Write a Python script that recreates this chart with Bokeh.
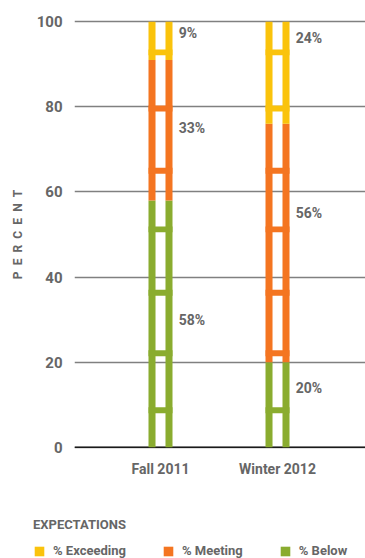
from bokeh.plotting import figure
from bokeh.layouts import column, row
from bokeh.models import (Range1d, FixedTicker, Legend, LegendItem,
                          ColumnDataSource, Span)
from bokeh.embed import file_html
from bokeh.resources import INLINE
from bokeh.core.properties import value

# ---------------- data ----------------
categories = ["Fall 2011", "Winter 2012"]
series_names = ["% Exceeding", "% Meeting", "% Below"]
pct_below = [58, 20]
pct_meeting = [33, 56]
pct_exceeding = [9, 24]
# vertical placement of the value labels (percent units)
label_y_below = [30.0, 14.0]
label_y_meeting = [75.0, 55.0]
label_y_exceeding = [97.4, 96.2]
# ladder rungs (percent units)
rung_levels = [8.7, 22.1, 36.3, 51.2, 65.0, 79.6, 92.8]
y_ticks = [0, 20, 40, 60, 80, 100]

# ---------------- style ----------------
C_EXC = "#fac30c"
C_MEET = "#f47521"
C_BELOW = "#8aac2f"
TEXT = "#666666"
FONT = "Roboto"

OFF = 0.0726      # rail offset from category centre (x units)
RAIL_W = 0.06     # rail width
LADDER_W = 0.205  # rung width
RUNG_H = 1.4      # rung height (percent units)

xs = list(range(len(categories)))

p = figure(width=365, height=500, output_backend="svg", toolbar_location=None,
           x_range=Range1d(-0.735, 1.752), y_range=Range1d(-1, 101),
           min_border_left=74, min_border_right=0, min_border_top=17,
           min_border_bottom=49)
p.outline_line_color = None
p.background_fill_color = "white"

# stacked segments
top_b = [b for b in pct_below]
bot_b = [0] * len(xs)
bot_m = top_b
top_m = [b + m for b, m in zip(pct_below, pct_meeting)]
bot_e = top_m
top_e = [t + e for t, e in zip(top_m, pct_exceeding)]

def rails(bottom, top, color):
    src = ColumnDataSource(dict(
        x=[x - OFF for x in xs] + [x + OFF for x in xs],
        bottom=list(bottom) * 2, top=list(top) * 2))
    return p.vbar(x="x", bottom="bottom", top="top", width=RAIL_W,
                  source=src, fill_color=color, line_color=None)

rails(bot_b, top_b, C_BELOW)
rails(bot_m, top_m, C_MEET)
rails(bot_e, top_e, C_EXC)

# rungs, coloured by the segment they sit in
rx, ry, rc = [], [], []
for i in xs:
    for lv in rung_levels:
        if lv < top_b[i]:
            c = C_BELOW
        elif lv < top_m[i]:
            c = C_MEET
        else:
            c = C_EXC
        rx.append(i); ry.append(lv); rc.append(c)
p.rect(x="x", y="y", width=LADDER_W, height=RUNG_H, color="c",
       source=ColumnDataSource(dict(x=rx, y=ry, c=rc)), line_color=None)

# value labels
lx, ly, lt = [], [], []
for vals, ys in ((pct_exceeding, label_y_exceeding),
                 (pct_meeting, label_y_meeting),
                 (pct_below, label_y_below)):
    for i in xs:
        lx.append(i + 0.155); ly.append(ys[i]); lt.append(f"{vals[i]}%")
p.text(x="x", y="y", text="t", source=ColumnDataSource(dict(x=lx, y=ly, t=lt)),
       text_font=value(FONT), text_font_style="bold", text_font_size="14px",
       text_color=TEXT, text_align="left", text_baseline="middle")

# grid
p.xgrid.grid_line_color = None
p.ygrid.ticker = FixedTicker(ticks=y_ticks)
p.ygrid.grid_line_color = "#808080"
p.ygrid.grid_line_width = 1.5
p.add_layout(Span(location=0, dimension="width", line_color="#1a1a1a",
                  line_width=1.5, level="underlay"))

# axes
p.yaxis.ticker = FixedTicker(ticks=y_ticks)
p.yaxis.axis_line_color = None
p.yaxis.major_tick_line_color = None
p.yaxis.minor_tick_line_color = None
p.yaxis.major_tick_out = 0
p.yaxis.major_label_standoff = 12
p.yaxis.major_label_text_font = FONT
p.yaxis.major_label_text_font_style = "bold"
p.yaxis.major_label_text_font_size = "15px"
p.yaxis.major_label_text_color = TEXT
p.yaxis.axis_label = "\u2002".join("PERCENT")
p.yaxis.axis_label_text_font = FONT
p.yaxis.axis_label_text_font_style = "bold"
p.yaxis.axis_label_text_font_size = "12px"
p.yaxis.axis_label_text_color = TEXT
p.yaxis.axis_label_standoff = 9

p.xaxis.ticker = FixedTicker(ticks=xs)
p.xaxis.major_label_overrides = {i: c for i, c in zip(xs, categories)}
p.xaxis.axis_line_color = None
p.xaxis.major_tick_line_color = None
p.xaxis.minor_tick_line_color = None
p.xaxis.major_tick_out = 0
p.xaxis.major_label_standoff = 9
p.xaxis.major_label_text_font = FONT
p.xaxis.major_label_text_font_style = "bold"
p.xaxis.major_label_text_font_size = "14px"
p.xaxis.major_label_text_color = TEXT

# ---------------- legend strip ----------------
lg = figure(width=365, height=58, output_backend="svg", toolbar_location=None,
            x_range=Range1d(0, 1), y_range=Range1d(0, 1),
            min_border=0, x_axis_type=None, y_axis_type=None)
lg.outline_line_color = None
lg.xgrid.grid_line_color = None
lg.ygrid.grid_line_color = None

def swatch(color, vals):
    # hidden one-row renderer that only supplies the legend swatch
    return lg.vbar(x=[xs[0]], top=[vals[0]], width=0.1, fill_color=color,
                   line_color=None, visible=False)

l_exc = swatch(C_EXC, pct_exceeding)
l_meet = swatch(C_MEET, pct_meeting)
l_below = swatch(C_BELOW, pct_below)

legend = Legend(items=[LegendItem(label=series_names[0], renderers=[l_exc]),
                       LegendItem(label=series_names[1], renderers=[l_meet]),
                       LegendItem(label=series_names[2], renderers=[l_below])],
                orientation="horizontal", location=(33, 0),
                title="EXPECTATIONS", title_standoff=11,
                padding=0, margin=0, spacing=36, label_standoff=8,
                glyph_width=12, glyph_height=12, label_height=12,
                border_line_color=None, background_fill_alpha=0)
legend.title_text_font = FONT
legend.title_text_font_style = "bold"
legend.title_text_font_size = "13px"
legend.title_text_color = TEXT
legend.label_text_font = FONT
legend.label_text_font_style = "bold"
legend.label_text_font_size = "13px"
legend.label_text_color = TEXT
lg.add_layout(legend)

layout = column(p, row(lg), spacing=0)
open("out.html", "w").write(file_html(layout, INLINE))
